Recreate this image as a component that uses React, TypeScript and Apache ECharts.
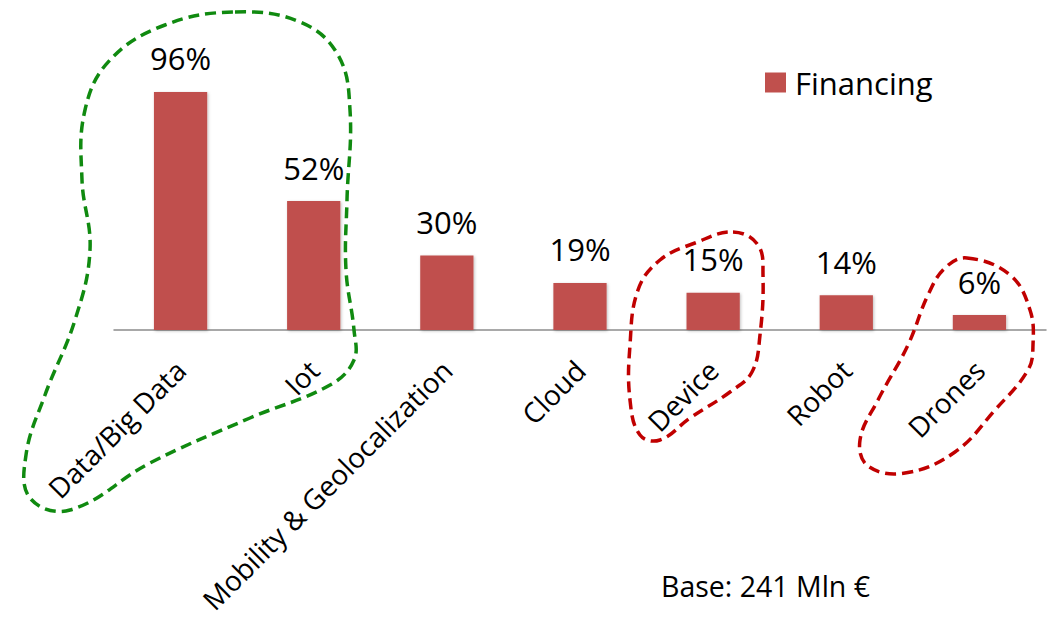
import React, { useEffect, useRef } from "react";
import * as echarts from "echarts";

const categories = ["Data/Big Data", "Iot", "Mobility & Geolocalization", "Cloud", "Device", "Robot", "Drones"];
const financing = [96, 52, 30, 19, 15, 14, 6];
const seriesName = "Financing";
const baseNote = "Base: 241 Mln €";

const FONT = "'Open Sans', 'Noto Sans', sans-serif";

const greenLoop: number[][] = [
  [235, 12], [300, 22], [338, 55], [350, 110], [347, 200], [346, 270], [354, 330], [354, 360],
  [330, 385], [250, 418], [150, 463], [70, 510], [30, 498], [26, 455], [45, 395], [75, 320],
  [90, 250], [82, 180], [85, 110], [110, 60], [165, 25],
];
const redLoop1: number[][] = [
  [733, 232], [758, 245], [763, 275], [760, 335], [752, 372], [730, 392], [690, 418], [660, 440],
  [640, 435], [630, 400], [630, 345], [638, 290], [660, 260], [695, 243],
];
const redLoop2: number[][] = [
  [967, 258], [1010, 275], [1030, 310], [1033, 345], [1028, 370], [995, 410], [955, 452], [905, 473],
  [868, 466], [860, 440], [878, 400], [908, 345], [928, 295], [945, 268],
];

export default function App() {
  const ref = useRef<HTMLDivElement>(null);
  useEffect(() => {
    if (!ref.current) return;
    const chart = echarts.init(ref.current, null, { renderer: "svg" });
    const loop = (pts: number[][], color: string) => ({
      type: "polygon",
      shape: { points: pts, smooth: 0.4 },
      style: { fill: "none", stroke: color, lineWidth: 3.5, lineDash: [11, 6] },
      z: 100,
    });
    chart.setOption({
      animation: false,
      backgroundColor: "#ffffff",
      textStyle: { fontFamily: FONT },
      grid: { left: 114, right: 5, top: 82, bottom: 288, containLabel: false, outerBoundsMode: "none" },
      legend: {
        data: [seriesName],
        left: 760,
        top: 62,
        icon: "rect",
        itemWidth: 21,
        itemHeight: 20,
        textStyle: { fontSize: 31, color: "#000", fontFamily: FONT, padding: [0, 0, 0, 4] },
      },
      xAxis: {
        type: "category",
        data: categories,
        axisLine: { show: true, lineStyle: { color: "#8c8c8c", width: 1.5 } },
        axisTick: { show: false },
        axisLabel: { rotate: 45, interval: 0, margin: 35, fontSize: 28, color: "#000", fontFamily: FONT },
      },
      yAxis: { type: "value", min: 0, max: 100, show: false, splitLine: { show: false } },
      series: [
        {
          name: seriesName,
          type: "bar",
          data: financing,
          barWidth: "40%",
          itemStyle: { color: "#C0504D", shadowColor: "rgba(0,0,0,0.25)", shadowBlur: 3, shadowOffsetX: 1, shadowOffsetY: 1 },
          label: {
            show: true,
            position: "top",
            distance: 18,
            formatter: "{c}%",
            fontSize: 31,
            color: "#000",
            fontFamily: FONT,
          },
        },
      ],
      graphic: [
        loop(greenLoop, "#108a10"),
        loop(redLoop1, "#c00000"),
        loop(redLoop2, "#c00000"),
        {
          type: "text",
          x: 661,
          y: 586,
          style: { text: baseNote, fontSize: 28.5, fontFamily: FONT, fill: "#000", verticalAlign: "middle", align: "left" },
        },
      ],
    });
    return () => chart.dispose();
  }, []);
  return <div ref={ref} style={{ position: "absolute", left: 0, top: 0, width: 1051, height: 618 }} />;
}
